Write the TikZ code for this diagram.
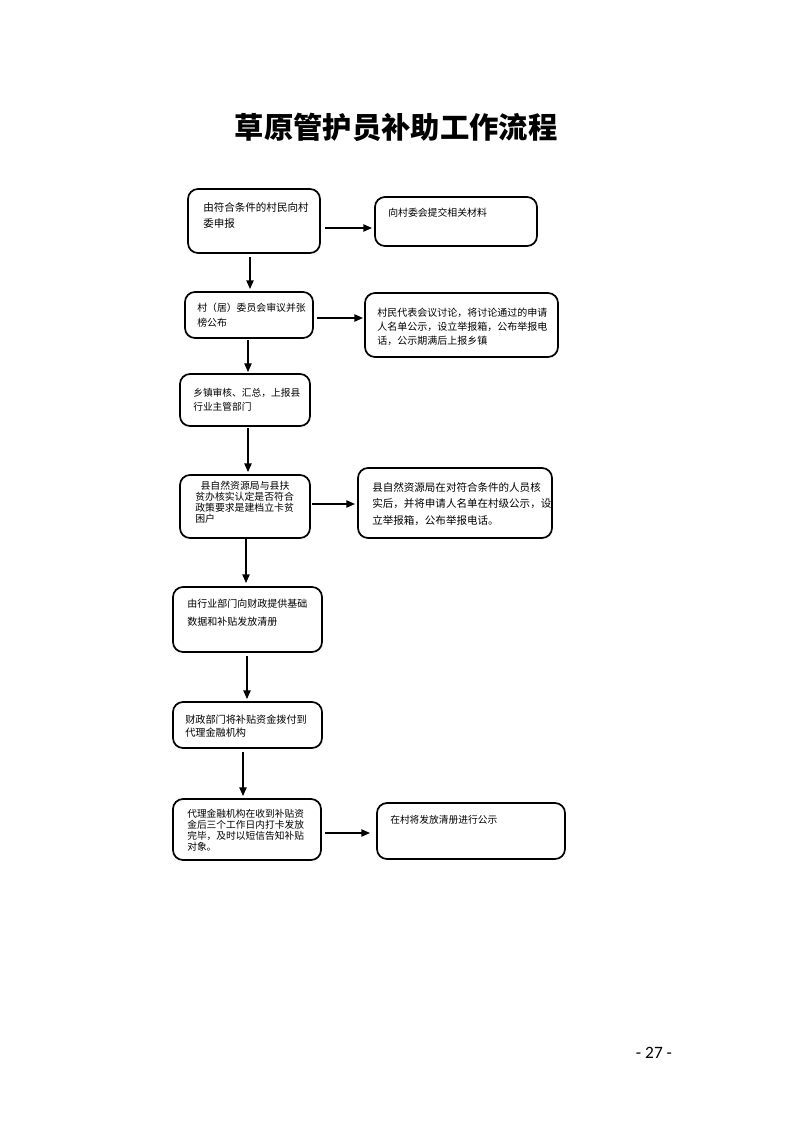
\documentclass[tikz,border=0pt]{standalone}
\usepackage{fontspec}
\newfontfamily\cjk{Noto Sans CJK SC}
\newfontfamily\pgnum{Carlito}
\usetikzlibrary{arrows.meta,calc}
\newcommand{\fsz}[2]{\cjk\fontsize{#1}{#2}\selectfont\lineskiplimit=-10pt}
\begin{document}
\begin{tikzpicture}[x=0.75pt,y=-0.75pt,
  box/.style={draw, line width=1.3pt, rounded corners=7.5pt, anchor=north west, inner sep=0pt, outer sep=0pt},
  txt/.style={anchor=north west, inner sep=0pt, align=left},
  arr/.style={line width=1pt, -{Triangle[length=6.5pt,width=5.5pt]}}]
\useasboundingbox (0,0) rectangle (793,1122);
\fill[white] (0,0) rectangle (793,1122);

% title and page number
\node (title) at (396,127) {\cjk\bfseries\fontsize{22}{22}\selectfont 草原管护员补助工作流程};
\node (pg) at (654,1053) {\pgnum\fontsize{13}{13}\selectfont - 27 -};

% boxes
\node[box, minimum width=132*0.75pt, minimum height=64*0.75pt] (A) at (188,189) {};
\node[box, minimum width=162*0.75pt, minimum height=49*0.75pt] (A2) at (375,197) {};
\node[box, minimum width=128*0.75pt, minimum height=46*0.75pt] (B) at (185,292) {};
\node[box, minimum width=193*0.75pt, minimum height=64*0.75pt] (B2) at (365,293) {};
\node[box, minimum width=130*0.75pt, minimum height=52*0.75pt] (C) at (180,374) {};
\node[box, minimum width=130*0.75pt, minimum height=63*0.75pt] (D) at (180,475) {};
\node[box, minimum width=194*0.75pt, minimum height=70*0.75pt] (D2) at (358,468) {};
\node[box, minimum width=149*0.75pt, minimum height=65*0.75pt] (E) at (173,587) {};
\node[box, minimum width=149*0.75pt, minimum height=46*0.75pt] (F) at (173,702) {};
\node[box, minimum width=148*0.75pt, minimum height=61*0.75pt] (G) at (173,799) {};
\node[box, minimum width=188*0.75pt, minimum height=56*0.75pt] (G2) at (377,803) {};

% texts
\node[txt, font=\fsz{7.9}{12}] (tA) at (203,202) {由符合条件的村民向村\\委申报};
\node[txt, font=\fsz{7.4}{12}] (tA2) at (388,208) {向村委会提交相关材料};
\node[txt, font=\fsz{7.4}{11.25}] (tB) at (197,303) {村（居）委员会审议并张\\榜公布};
\node[txt, font=\fsz{7.5}{10.5}] (tB2) at (377,308) {村民代表会议讨论，将讨论通过的申请\\人名单公示，设立举报箱，公布举报电\\话，公示期满后上报乡镇};
\node[txt, font=\fsz{7.3}{10.5}] (tC) at (193,388) {乡镇审核、汇总，上报县\\行业主管部门};
\node[txt, font=\fsz{7.4}{8.3}] (tD) at (195,481) {\hspace*{4pt}县自然资源局与县扶\\贫办核实认定是否符合\\政策要求是建档立卡贫\\困户};
\node[txt, font=\fsz{7.9}{12.4}] (tD2) at (372,482) {县自然资源局在对符合条件的人员核\\实后，并将申请人名单在村级公示，设\\立举报箱，公布举报电话。};
\node[txt, font=\fsz{7.5}{13.5}] (tE) at (187,599) {由行业部门向财政提供基础\\数据和补贴发放清册};
\node[txt, font=\fsz{7.6}{9.75}] (tF) at (185,715) {财政部门将补贴资金拨付到\\代理金融机构};
\node[txt, font=\fsz{7.3}{8.2}] (tG) at (187,809) {代理金融机构在收到补贴资\\金后三个工作日内打卡发放\\完毕，及时以短信告知补贴\\对象。};
\node[txt, font=\fsz{7.3}{12}] (tG2) at (390,815) {在村将发放清册进行公示};

% connectors
\draw[arr] ($(A.east)+(5,7)$) -- ($(A2.west)+(-3,6.5)$);
\draw[arr] ($(A.south)+(-4,4)$) -- ($(B.north)+(1,-3)$);
\draw[arr] ($(B.east)+(4,3)$) -- ($(B2.west)+(-2,-7)$);
\draw[arr] ($(B.south)+(-1,2)$) -- ($(C.north)+(3,-2)$);
\draw[arr] ($(C.south)+(3,2)$) -- ($(D.north)+(3,-3)$);
\draw[arr] ($(D.east)+(2,-2.5)$) -- ($(D2.west)+(-3,1)$);
\draw[arr] ($(D.south)+(1,1)$) -- ($(E.north)+(-1.5,-4)$);
\draw[arr] ($(E.south)+(-0.5,4)$) -- ($(F.north)+(-0.5,-3)$);
\draw[arr] ($(F.south)+(-4.5,4)$) -- ($(G.north)+(-4,-3)$);
\draw[arr] ($(G.east)+(4,3.5)$) -- ($(G2.west)+(-7,2)$);
\end{tikzpicture}
\end{document}
